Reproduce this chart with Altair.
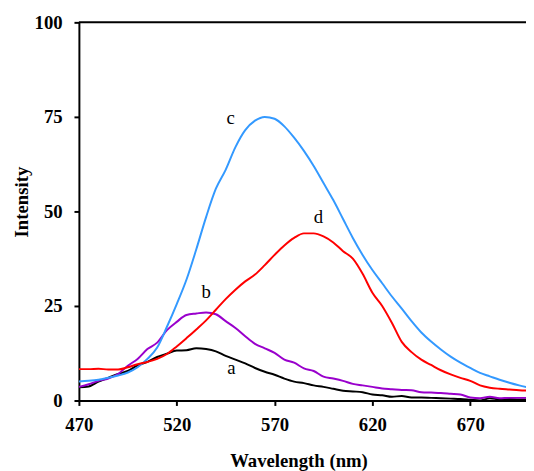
import altair as alt
import pandas as pd

wavelength = [470, 475, 480, 485, 490, 495, 500, 505, 510, 515, 520, 525, 530, 535, 540,
              545, 550, 555, 560, 565, 570, 575, 580, 585, 590, 595, 600, 605, 610, 615,
              620, 625, 630, 635, 640, 645, 650, 655, 660, 665, 670, 675, 680, 685, 690,
              695, 700]

curve_a = [3.5, 3.7, 5.0, 6.0, 7.0, 7.8, 9.3, 10.2, 11.5, 12.4, 13.2, 13.3, 13.8, 13.6, 13.0,
           11.8, 10.8, 9.8, 8.6, 7.6, 6.8, 5.8, 5.0, 4.6, 4.0, 3.6, 3.1, 2.6, 2.4, 2.2,
           1.6, 1.4, 1.0, 1.2, 0.8, 0.8, 0.7, 0.6, 0.5, 0.4, 0.2, 0.0, 0.6, 0.3, 0.4,
           0.3, 0.3]

curve_b = [3.6, 4.3, 5.2, 5.8, 7.0, 9.2, 11.0, 13.6, 15.3, 18.6, 20.8, 22.6, 23.0, 23.3, 22.8,
           21.0, 19.2, 17.0, 15.0, 13.8, 12.6, 10.8, 10.0, 8.5, 7.8, 6.3, 5.8, 5.2, 4.4, 4.0,
           3.6, 3.2, 3.0, 2.8, 2.7, 2.2, 2.1, 2.0, 1.8, 1.6, 0.8, 0.6, 1.0, 0.6, 0.7,
           0.7, 0.7]

curve_c = [5.0, 5.2, 5.5, 6.0, 6.6, 7.4, 8.8, 11.0, 14.0, 19.5, 25.5, 32.0, 40.0, 48.5, 56.0,
           61.0, 67.0, 71.5, 74.0, 75.0, 74.5, 72.5, 69.5, 66.0, 62.0, 57.5, 53.0, 48.0, 43.0, 38.5,
           34.5, 31.0, 27.5, 24.3, 21.0, 18.0, 15.6, 13.5, 11.6, 10.0, 8.6, 7.3, 6.4, 5.5, 4.7,
           4.0, 3.4]

curve_d = [8.3, 8.3, 8.4, 8.2, 8.2, 8.8, 9.6, 10.2, 11.0, 12.3, 14.3, 16.5, 18.8, 21.2, 24.0,
           26.8, 29.3, 31.5, 33.3, 35.8, 38.5, 41.0, 43.0, 44.2, 44.2, 43.4, 41.8, 39.5, 37.5, 33.5,
           28.5, 25.0, 20.5, 15.5, 12.8, 10.8, 9.4, 8.0, 6.9, 6.0, 5.2, 4.0, 3.4, 3.1, 2.9,
           2.7, 2.6]

series_names = ["a", "b", "c", "d"]
series_colors = ["#000000", "#9900CC", "#3399FF", "#FF0000"]

label_text = ["a", "b", "c", "d"]
label_x = [548, 535, 547.5, 592.4]
label_y = [8.6, 28.6, 74.7, 48.4]

x_ticks = [470, 520, 570, 620, 670]
y_ticks = [0, 25, 50, 75, 100]

rows = []
for name, vals in zip(series_names, [curve_a, curve_b, curve_c, curve_d]):
    for w, v in zip(wavelength, vals):
        rows.append({"wl": w, "val": v, "series": name})
df = pd.DataFrame(rows)

labels_df = pd.DataFrame({"t": label_text, "x": label_x, "y": label_y})
top_df = pd.DataFrame({"y": [100]})

FONT = "Liberation Serif"

x_scale = alt.Scale(domain=[470, 698.5], nice=False, zero=False)
y_scale = alt.Scale(domain=[0, 100], nice=False)

lines = alt.Chart(df).mark_line(strokeWidth=2, clip=True, interpolate="monotone").encode(
    x=alt.X("wl:Q", scale=x_scale,
            axis=alt.Axis(values=x_ticks, title="Wavelength (nm)", format="d",
                          titleX=223, titleY=67, titleBaseline="alphabetic",
                          labelBaseline="alphabetic", labelPadding=25, labelFlush=False)),
    y=alt.Y("val:Q", scale=y_scale,
            axis=alt.Axis(values=y_ticks, title="Intensity", format="d",
                          titleX=-52, titleY=182, titleBaseline="alphabetic",
                          labelPadding=12, labelFlush=False)),
    color=alt.Color("series:N", scale=alt.Scale(domain=series_names, range=series_colors),
                    legend=None),
    detail="series:N",
)

texts = alt.Chart(labels_df).mark_text(font=FONT, fontSize=19, color="black").encode(
    x=alt.X("x:Q", scale=x_scale),
    y=alt.Y("y:Q", scale=y_scale),
    text="t:N",
)

top_rule = alt.Chart(top_df).mark_rule(color="black", strokeWidth=2).encode(
    y=alt.Y("y:Q", scale=y_scale)
)

chart = alt.layer(top_rule, lines, texts).properties(
    width=454, height=384,
    autosize=alt.AutoSizeParams(type="none"),
    padding={"left": 72, "top": 11, "right": 0, "bottom": 68},
).configure_view(stroke=None).configure_axis(
    labelFont=FONT, labelFontSize=19, labelFontWeight="bold", labelColor="black",
    titleFont=FONT, titleFontSize=19, titleFontWeight="bold", titleColor="black",
    domainColor="black", domainWidth=2, tickColor="black", tickWidth=2, tickSize=5,
    grid=False,
)

chart.save("out.html", embed_options={"renderer": "svg", "actions": False})
